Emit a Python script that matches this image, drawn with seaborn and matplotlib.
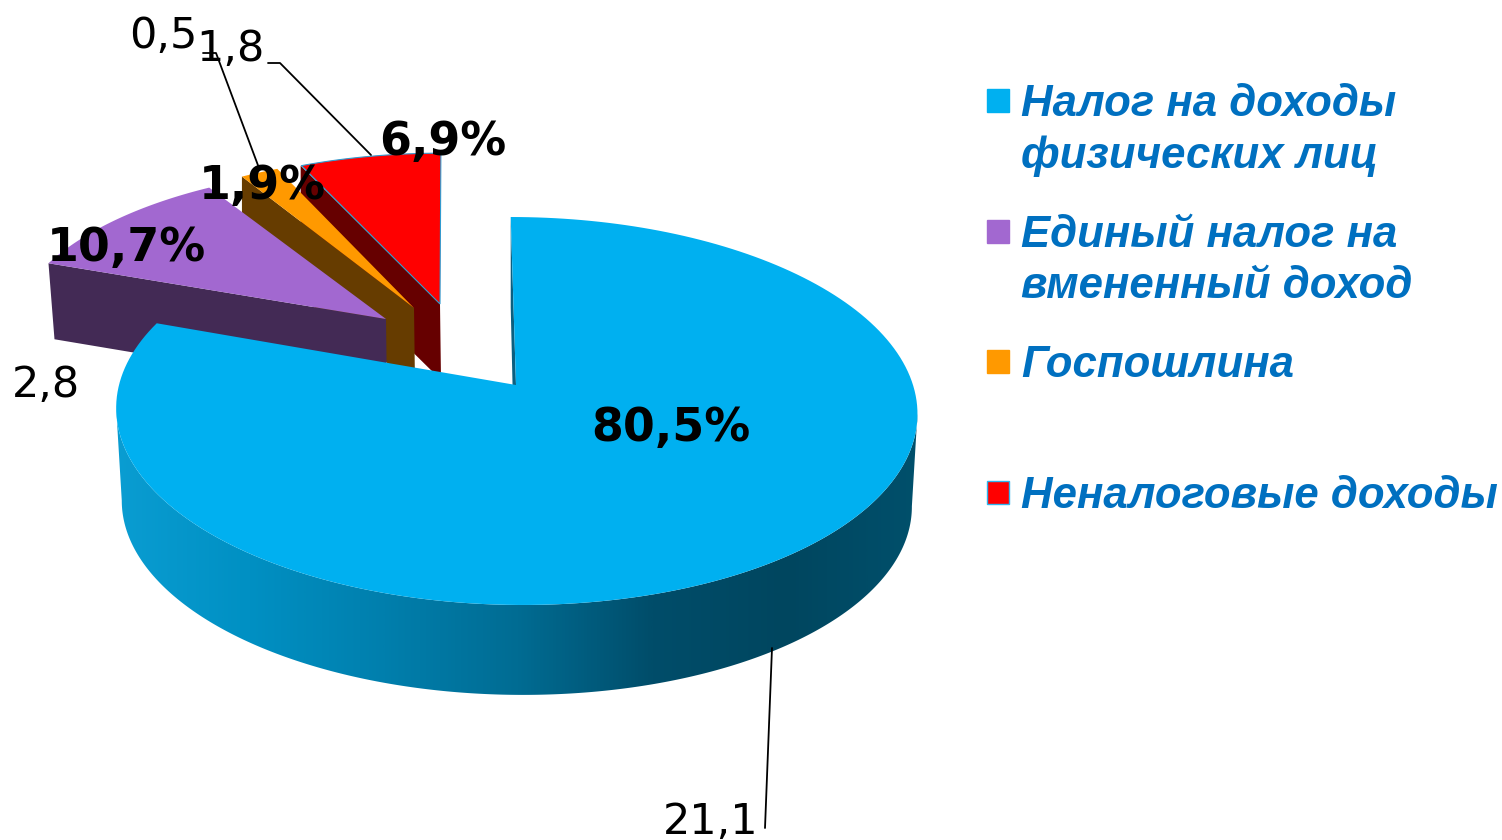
import numpy as np
import seaborn as sns
import matplotlib.pyplot as plt
from matplotlib.patches import Polygon, Rectangle

categories = ["Налог на доходы\nфизических лиц", "Единый налог на\nвмененный доход", "Госпошлина", "Неналоговые доходы"]
shares = [80.5, 10.7, 1.9, 6.9]
amounts = ["21,1", "2,8", "0,5", "1,8"]
share_labels = ["80,5%", "10,7%", "1,9%", "6,9%"]
colors = ["#00B0F0", "#A268D0", "#FF9900", "#FF0000"]
wall_colors = ["#00465F", "#432A55", "#663C00", "#660000"]

sns.set_theme(style="white")
plt.rcParams["font.family"] = ["DejaVu Sans"]

fig, ax = plt.subplots(figsize=(15.02, 8.4), dpi=100)
fig.subplots_adjust(0, 0, 1, 1)

# perspective of the disc
K = 0.134


def rim(theta, cx, cy, rx, ry, skew=0.0):
    u, v = np.sin(theta), np.cos(theta)
    den = 1 + K * v
    return cx + (rx * u + skew * v) / den, cy - ry * v / den


# slice angles, clockwise from 12 o'clock
edges = np.radians(np.cumsum([0] + shares) / sum(shares) * 360)


def surface(i, cx, cy, rx, ry, skew=0.0):
    t = np.linspace(edges[i], edges[i + 1], 200)
    x, y = rim(t, cx, cy, rx, ry, skew)
    return np.column_stack([np.r_[cx, x], np.r_[cy, y]])


def cut_wall(i, cx, cy, rx, ry, depth, lean):
    x, y = rim(edges[i], cx, cy, rx, ry)
    return [(x, y), (cx, cy), (cx + 1, cy + depth), (x + lean, y + depth)]


# exploded small slices: apex and radii per slice, drawn back to front
small_depth = 76
red = (440, 304, 372, 171)
orange = (414, 308, 365, 172)
purple = (386, 319, 375, 172)

ax.add_patch(Polygon(cut_wall(3, *red, small_depth, 0), color=wall_colors[3], lw=0))
ax.add_patch(Polygon(surface(3, *red, skew=1), facecolor=colors[3], edgecolor="#2F9BD0", lw=0.8))
ax.add_patch(Polygon(cut_wall(2, *orange, small_depth, 0), color=wall_colors[2], lw=0))
ax.add_patch(Polygon(surface(2, *orange), color=colors[2], lw=0))
ax.add_patch(Polygon(cut_wall(1, *purple, small_depth, 6), color=wall_colors[1], lw=0))
ax.add_patch(Polygon(surface(1, *purple), color=colors[1], lw=0))

# big slice
bx, by, brx, bry, bskew = 516, 385, 397, 190.5, -6
bottom_scale, bottom_drop = 0.986, 93

t_all = np.linspace(0, 2 * np.pi, 1441)
t_top = t_all[rim(t_all, bx, by, brx, bry, bskew)[0].argmax():rim(t_all, bx, by, brx, bry, bskew)[0].argmin() + 1]
top_x, top_y = rim(t_top, bx, by, brx, bry, bskew)
low_x, low_y = rim(t_top, bx, by + bottom_drop, brx * bottom_scale, bry * bottom_scale, bskew)
side = Polygon(np.column_stack([np.r_[top_x, low_x[::-1]], np.r_[top_y, low_y[::-1]]]), transform=ax.transData)

shade = sns.blend_palette(["#0A9DD2", "#0090C3", "#007FAD", "#006C93", "#004D6A", "#00465F", "#00506C"], as_cmap=True)
img = ax.imshow(np.linspace(0, 1, 512)[None, :], cmap=shade, extent=[114, 922, 720, 380], aspect="auto")
img.set_clip_path(side)

back_x, back_y = rim(edges[0], bx, by, brx, bry, bskew)
ax.add_patch(Polygon([(back_x, back_y), (bx, by), (bx - 3, by + 20), (back_x, back_y + 90)], color="#0B5F80", lw=0))
ax.add_patch(Polygon(surface(0, bx, by, brx, bry, bskew), color=colors[0], lw=0))

# leader lines
ax.plot([772, 765], [648, 828], color="black", lw=1.3)
ax.plot([203, 216, 259], [53, 53, 168], color="black", lw=1.3)
ax.plot([268, 280, 371], [63, 63, 155], color="black", lw=1.3)

# values
amount_pos = [(711, 822), (46, 385), (163, 36), (230, 49)]
for txt, (x, y) in zip(amounts, amount_pos):
    ax.text(x, y, txt, fontsize=31, ha="center", va="center", color="black")

share_pos = [(671, 428), (126, 248), (262, 187), (443, 143)]
for txt, (x, y) in zip(share_labels, share_pos):
    ax.text(x, y, txt, fontsize=33, fontweight="bold", ha="center", va="center", color="black")

# legend
legend_y = [101, 232, 362, 493]
for name, col, y in zip(categories, colors, legend_y):
    edge = "#2FB5EE" if col == "#FF0000" else col
    ax.add_patch(Rectangle((987, y - 12), 22, 23, facecolor=col, edgecolor=edge, lw=1))
    ax.text(1021, y - 17, name, fontsize=31.5, family="Liberation Sans", fontweight="bold", fontstyle="italic",
            color="#0070C0", ha="left", va="top", linespacing=1.32)

ax.set_xlim(0, 1502)
ax.set_ylim(840, 0)
ax.axis("off")

plt.savefig("out.png", dpi=100)
